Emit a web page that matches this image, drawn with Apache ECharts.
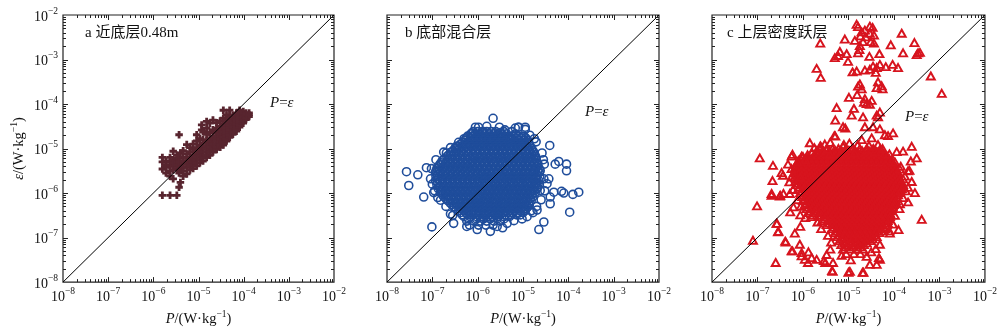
<!DOCTYPE html>
<html><head><meta charset="utf-8">
<script src="https://cdn.jsdelivr.net/npm/echarts@6/dist/echarts.min.js"></script>
<style>html,body{margin:0;padding:0;background:#fff}#c{width:1000px;height:332px}</style>
</head><body><div id="c"></div>
<script>
// tick label exponents (10^n)
const tickExponents = [-8,-7,-6,-5,-4,-3,-2];
const panelTitles = ['a 近底层0.48m', 'b 底部混合层', 'c 上层密度跃层'];

// Panel a: columns of log10(P) with their log10(eps) values
const aCols = [
 [-5.80,[-6.05,-5.46,-5.30,-5.20]],
 [-5.72,[-5.42,-5.55,-5.28,-5.36]],
 [-5.63,[-6.05,-5.20,-5.38,-5.50,-5.62,-5.30]],
 [-5.56,[-5.06,-5.25,-5.40,-5.68,-5.33,-5.48]],
 [-5.48,[-6.05,-5.45,-5.30,-5.15,-5.38,-5.22]],
 [-5.43,[-5.87,-4.69,-5.22,-5.38,-5.55,-5.30]],
 [-5.40,[-5.76,-5.10,-5.45]],
 [-5.34,[-5.50,-5.35,-5.20,-5.05,-5.62,-5.28,-5.42]],
 [-5.26,[-5.57,-5.42,-5.28,-5.12,-4.91,-5.35,-5.20]],
 [-5.19,[-4.98,-5.48,-5.33,-5.20,-5.08,-5.40,-5.26]],
 [-5.12,[-5.45,-5.30,-5.15,-5.02,-4.90,-5.37,-5.22]],
 [-5.04,[-4.69,-4.83,-5.39,-5.25,-5.12,-4.98,-5.32,-5.18,-5.05]],
 [-4.97,[-5.32,-5.18,-5.05,-4.92,-4.78,-5.25,-5.11]],
 [-4.93,[-4.47,-4.58,-4.98]],
 [-4.90,[-4.80,-5.28,-5.14,-5.00,-4.88,-4.62,-5.21,-5.07,-4.94]],
 [-4.82,[-4.39,-4.54,-5.20,-5.08,-4.95,-4.82,-4.68,-5.14,-5.01,-4.88]],
 [-4.75,[-4.43,-5.15,-5.02,-4.90,-4.78,-4.64,-5.08,-4.96,-4.84]],
 [-4.68,[-4.36,-5.08,-4.96,-4.84,-4.72,-4.58,-5.02,-4.90,-4.78]],
 [-4.60,[-5.02,-4.90,-4.78,-4.66,-4.54,-4.42,-4.96,-4.84,-4.72,-4.60]],
 [-4.52,[-4.97,-4.85,-4.73,-4.61,-4.50,-4.38,-4.91,-4.79,-4.67,-4.55]],
 [-4.45,[-4.14,-4.92,-4.80,-4.68,-4.56,-4.44,-4.32,-4.86,-4.74,-4.62,-4.50]],
 [-4.38,[-4.25,-4.83,-4.72,-4.60,-4.48,-4.36,-4.78,-4.66,-4.54,-4.42]],
 [-4.31,[-4.14,-4.25,-4.75,-4.64,-4.53,-4.42,-4.32,-4.70,-4.58,-4.47,-4.37]],
 [-4.24,[-4.68,-4.57,-4.46,-4.36,-4.26,-4.62,-4.51,-4.41,-4.31]],
 [-4.16,[-4.61,-4.50,-4.40,-4.30,-4.20,-4.55,-4.45,-4.35,-4.25]],
 [-4.09,[-4.52,-4.42,-4.33,-4.24,-4.14,-4.47,-4.37,-4.28,-4.19]],
 [-4.01,[-4.43,-4.34,-4.25,-4.17,-4.38,-4.29,-4.21]],
 [-3.95,[-4.35,-4.27,-4.20,-4.31,-4.23]],
 [-3.88,[-4.28,-4.20,-4.24]]
];

// Panel b: rows of log10(eps) with their log10(P) values (dense core)
const bRows = [
 [-4.52,[-5.98,-5.52,-5.10,-4.95]],
 [-4.62,[-6.10,-6.00,-5.90,-5.80,-5.70,-5.60,-5.42,-5.25]],
 [-4.67,[-6.15,-6.05,-5.95,-5.85,-5.75,-5.65,-5.55,-5.47,-5.36,-5.17]],
 [-4.72,[-6.22,-6.12,-6.02,-5.93,-5.83,-5.73,-5.63,-5.53,-5.43,-5.33,-5.22,-5.10,-4.98]],
 [-4.76,[-6.25,-6.15,-6.05,-5.95,-5.85,-5.75,-5.65,-5.55,-5.45,-5.35,-5.25,-5.15,-5.04,-4.94]],
 [-4.81,[-6.28,-6.18,-6.07,-5.97,-5.88,-5.78,-5.68,-5.58,-5.48,-5.38,-5.28,-5.18,-5.08,-4.98,-4.90]],
 [-4.86,[-6.33,-6.23,-6.12,-6.02,-5.92,-5.82,-5.72,-5.62,-5.52,-5.42,-5.32,-5.22,-5.12,-5.02,-4.92,-4.88]],
 [-4.90,[-6.38,-6.27,-6.16,-6.06,-5.95,-5.85,-5.75,-5.65,-5.55,-5.45,-5.35,-5.25,-5.15,-5.05,-4.95,-4.86]],
 [-4.95,[-6.44,-6.34,-6.24,-6.13,-6.02,-5.92,-5.82,-5.72,-5.62,-5.52,-5.42,-5.32,-5.22,-5.12,-5.02,-4.92,-4.84]],
 [-5.00,[-6.50,-6.40,-6.30,-6.20,-6.10,-6.00,-5.90,-5.80,-5.70,-5.60,-5.50,-5.40,-5.30,-5.20,-5.10,-5.00,-4.90,-4.81]],
 [-5.05,[-6.55,-6.45,-6.35,-6.25,-6.15,-6.05,-5.95,-5.85,-5.75,-5.65,-5.55,-5.45,-5.35,-5.25,-5.15,-5.05,-4.95,-4.85,-4.78]],
 [-5.09,[-6.60,-6.48,-6.37,-6.26,-6.15,-6.05,-5.95,-5.85,-5.75,-5.65,-5.55,-5.45,-5.35,-5.25,-5.15,-5.05,-4.95,-4.85,-4.76]],
 [-5.14,[-6.64,-6.53,-6.42,-6.31,-6.20,-6.10,-6.00,-5.90,-5.80,-5.70,-5.60,-5.50,-5.40,-5.30,-5.20,-5.10,-5.00,-4.90,-4.80,-4.74]],
 [-5.18,[-6.68,-6.57,-6.45,-6.34,-6.23,-6.12,-6.02,-5.92,-5.82,-5.72,-5.62,-5.52,-5.42,-5.32,-5.22,-5.12,-5.02,-4.92,-4.82,-4.72]],
 [-5.23,[-6.73,-6.62,-6.50,-6.39,-6.28,-6.17,-6.07,-5.97,-5.87,-5.77,-5.67,-5.57,-5.47,-5.37,-5.27,-5.17,-5.07,-4.97,-4.87,-4.77,-4.71]],
 [-5.27,[-6.78,-6.66,-6.55,-6.44,-6.33,-6.22,-6.11,-6.00,-5.90,-5.80,-5.70,-5.60,-5.50,-5.40,-5.30,-5.20,-5.10,-5.00,-4.90,-4.80,-4.70]],
 [-5.32,[-6.81,-6.70,-6.59,-6.48,-6.37,-6.26,-6.15,-6.05,-5.95,-5.85,-5.75,-5.65,-5.55,-5.45,-5.35,-5.25,-5.15,-5.05,-4.95,-4.85,-4.75,-4.68]],
 [-5.36,[-6.84,-6.72,-6.61,-6.50,-6.39,-6.28,-6.17,-6.06,-5.95,-5.85,-5.75,-5.65,-5.55,-5.45,-5.35,-5.25,-5.15,-5.05,-4.95,-4.85,-4.75,-4.67]],
 [-5.41,[-6.87,-6.76,-6.65,-6.54,-6.43,-6.32,-6.21,-6.10,-6.00,-5.90,-5.80,-5.70,-5.60,-5.50,-5.40,-5.30,-5.20,-5.10,-5.00,-4.90,-4.80,-4.70]],
 [-5.45,[-6.90,-6.78,-6.67,-6.56,-6.45,-6.34,-6.23,-6.12,-6.01,-5.90,-5.80,-5.70,-5.60,-5.50,-5.40,-5.30,-5.20,-5.10,-5.00,-4.90,-4.80,-4.71,-4.64]],
 [-5.50,[-6.92,-6.85,-6.73,-6.62,-6.51,-6.40,-6.29,-6.18,-6.07,-5.96,-5.85,-5.75,-5.65,-5.55,-5.45,-5.35,-5.25,-5.15,-5.05,-4.95,-4.85,-4.75,-4.67]],
 [-5.54,[-6.93,-6.82,-6.71,-6.60,-6.49,-6.38,-6.27,-6.16,-6.05,-5.94,-5.84,-5.74,-5.64,-5.54,-5.44,-5.34,-5.24,-5.14,-5.04,-4.94,-4.84,-4.74,-4.64]],
 [-5.59,[-6.88,-6.76,-6.65,-6.54,-6.43,-6.32,-6.21,-6.10,-5.99,-5.89,-5.79,-5.69,-5.59,-5.49,-5.39,-5.29,-5.19,-5.09,-4.99,-4.89,-4.79,-4.69]],
 [-5.63,[-6.92,-6.80,-6.69,-6.58,-6.47,-6.36,-6.25,-6.14,-6.03,-5.92,-5.82,-5.72,-5.62,-5.52,-5.42,-5.32,-5.22,-5.12,-5.02,-4.92,-4.82,-4.72,-4.63]],
 [-5.68,[-6.88,-6.77,-6.66,-6.55,-6.44,-6.33,-6.22,-6.11,-6.00,-5.90,-5.80,-5.70,-5.60,-5.50,-5.40,-5.30,-5.20,-5.10,-5.00,-4.90,-4.80,-4.70]],
 [-5.72,[-6.93,-6.83,-6.72,-6.61,-6.50,-6.39,-6.28,-6.17,-6.06,-5.95,-5.85,-5.75,-5.65,-5.55,-5.45,-5.35,-5.25,-5.15,-5.05,-4.95,-4.85,-4.75,-4.65]],
 [-5.77,[-6.88,-6.77,-6.66,-6.55,-6.44,-6.33,-6.22,-6.11,-6.00,-5.90,-5.80,-5.70,-5.60,-5.50,-5.40,-5.30,-5.20,-5.10,-5.00,-4.90,-4.80,-4.70]],
 [-5.81,[-6.90,-6.79,-6.68,-6.57,-6.46,-6.35,-6.24,-6.13,-6.02,-5.91,-5.81,-5.71,-5.61,-5.51,-5.41,-5.31,-5.21,-5.11,-5.01,-4.91,-4.81,-4.71,-4.64]],
 [-5.86,[-6.85,-6.74,-6.63,-6.52,-6.41,-6.30,-6.19,-6.08,-5.97,-5.86,-5.76,-5.66,-5.56,-5.46,-5.36,-5.26,-5.16,-5.06,-4.96,-4.86,-4.76,-4.68]],
 [-5.90,[-6.87,-6.76,-6.65,-6.54,-6.43,-6.32,-6.21,-6.10,-5.99,-5.88,-5.78,-5.68,-5.58,-5.48,-5.38,-5.28,-5.18,-5.08,-4.98,-4.88,-4.78,-4.69]],
 [-5.95,[-6.80,-6.70,-6.60,-6.49,-6.38,-6.27,-6.16,-6.05,-5.94,-5.83,-5.73,-5.63,-5.53,-5.43,-5.33,-5.23,-5.13,-5.03,-4.93,-4.83,-4.75]],
 [-5.99,[-6.82,-6.71,-6.60,-6.49,-6.38,-6.27,-6.16,-6.05,-5.94,-5.84,-5.74,-5.64,-5.54,-5.44,-5.34,-5.24,-5.14,-5.04,-4.94,-4.84,-4.73]],
 [-6.04,[-6.77,-6.66,-6.55,-6.44,-6.33,-6.22,-6.11,-6.00,-5.89,-5.79,-5.69,-5.59,-5.49,-5.39,-5.29,-5.19,-5.09,-4.99,-4.89,-4.80]],
 [-6.08,[-6.75,-6.64,-6.53,-6.42,-6.31,-6.20,-6.09,-5.98,-5.88,-5.78,-5.68,-5.58,-5.48,-5.38,-5.28,-5.18,-5.08,-4.98,-4.88,-4.78]],
 [-6.13,[-6.70,-6.59,-6.48,-6.37,-6.26,-6.15,-6.04,-5.93,-5.83,-5.73,-5.63,-5.53,-5.43,-5.33,-5.23,-5.13,-5.03,-4.93,-4.84]],
 [-6.17,[-6.66,-6.55,-6.44,-6.33,-6.22,-6.11,-6.00,-5.90,-5.80,-5.70,-5.60,-5.50,-5.40,-5.30,-5.20,-5.10,-5.00,-4.91,-4.82]],
 [-6.22,[-6.61,-6.50,-6.39,-6.28,-6.17,-6.06,-5.96,-5.86,-5.76,-5.66,-5.56,-5.46,-5.36,-5.26,-5.16,-5.06,-4.96,-4.87]],
 [-6.26,[-6.57,-6.46,-6.35,-6.24,-6.13,-6.02,-5.92,-5.82,-5.72,-5.62,-5.52,-5.42,-5.32,-5.22,-5.12,-5.02,-4.93,-4.86]],
 [-6.31,[-6.52,-6.41,-6.30,-6.19,-6.08,-5.98,-5.88,-5.78,-5.68,-5.58,-5.48,-5.38,-5.28,-5.18,-5.08,-4.98,-4.90]],
 [-6.35,[-6.47,-6.36,-6.25,-6.14,-6.03,-5.93,-5.83,-5.73,-5.63,-5.53,-5.43,-5.33,-5.23,-5.13,-5.03,-4.93]],
 [-6.40,[-6.42,-6.31,-6.20,-6.09,-5.99,-5.89,-5.79,-5.69,-5.59,-5.49,-5.39,-5.29,-5.18,-5.06,-4.96]],
 [-6.44,[-6.38,-6.26,-6.15,-6.04,-5.94,-5.84,-5.74,-5.64,-5.54,-5.44,-5.34,-5.24,-5.12,-5.00]],
 [-6.49,[-6.34,-6.22,-6.10,-5.98,-5.86,-5.74,-5.62,-5.50,-5.38,-5.26,-5.14]],
 [-6.53,[-6.30,-6.16,-6.02,-5.90,-5.78,-5.66,-5.54,-5.42,-5.30]],
 [-6.58,[-6.20,-6.02,-5.87,-5.72,-5.57,-5.42]],
 [-6.63,[-6.24,-6.08,-5.94,-5.80,-5.64,-5.50]],
 [-6.72,[-6.18,-5.98,-5.82,-5.66]]
];
// Panel b: scattered points [log10(P), log10(eps)]
const bOut = [
 [-7.57,-5.52],[-7.52,-5.83],[-7.32,-5.59],[-7.13,-5.43],[-7.19,-6.09],[-7.01,-6.76],[-6.69,-5.10],[-6.47,-4.95],
 [-5.66,-4.32],[-5.49,-4.64],[-5.10,-4.52],[-4.95,-4.57],[-4.71,-4.85],[-4.41,-4.93],[-4.21,-5.29],[-4.04,-5.35],
 [-4.04,-5.50],[-4.15,-5.96],[-4.10,-6.00],[-3.90,-6.03],[-3.77,-5.98],[-3.97,-6.43],[-4.54,-6.65],[-4.65,-6.82],
 [-4.78,-6.44],[-5.06,-6.49],[-5.72,-6.86],[-6.01,-6.82],[-6.24,-6.75],[-6.53,-6.68],[-6.60,-6.47],[-4.40,-6.09],
 [-4.40,-6.24],[-4.43,-5.68],[-6.97,-5.99],[-6.82,-6.16],[-7.04,-5.68],[-6.49,-4.98],[-6.12,-4.65],[-5.87,-4.62],
 [-5.28,-4.75],[-5.17,-4.54],[-4.62,-5.50],[-4.54,-5.68],[-4.47,-5.79],[-4.62,-5.94],[-4.32,-5.98],[-4.29,-5.35],
 [-4.53,-5.35],[-4.69,-6.38],[-4.91,-6.53],[-5.35,-6.68],[-5.57,-6.75],
 [-6.30,-4.78],[-6.42,-4.86],[-6.60,-4.98],[-6.75,-5.08],[-6.92,-5.25],[-7.02,-5.45],[-7.00,-5.80],[-6.95,-5.95],
 [-6.88,-6.10],[-6.70,-6.30],[-6.55,-6.50],[-5.40,-4.58],[-5.80,-4.50],[-6.05,-4.52],[-4.85,-4.70],[-4.75,-4.78],
 [-4.58,-5.10],[-4.55,-5.25],[-4.52,-5.95],[-4.60,-6.15],[-4.70,-6.30],[-4.82,-6.40],[-5.02,-6.58],[-5.20,-6.62],
 [-5.45,-6.78]
];

// Panel c: rows of log10(eps) with their log10(P) values (dense core)
const cRows = [
 [-5.00,[-5.62,-5.48,-5.35,-5.22,-5.05,-4.90,-4.75,-4.60,-4.45,-4.30]],
 [-5.05,[-5.70,-5.57,-5.42,-5.29,-5.15,-5.00,-4.85,-4.70,-4.55,-4.40,-4.28]],
 [-5.09,[-5.80,-5.68,-5.56,-5.45,-5.34,-5.23,-5.12,-5.01,-4.90,-4.79,-4.68,-4.57,-4.46,-4.35,-4.25]],
 [-5.14,[-5.90,-5.74,-5.62,-5.50,-5.39,-5.28,-5.17,-5.06,-4.95,-4.84,-4.73,-4.62,-4.51,-4.40,-4.30,-4.20]],
 [-5.18,[-6.00,-5.88,-5.77,-5.66,-5.55,-5.44,-5.33,-5.22,-5.11,-5.00,-4.89,-4.78,-4.67,-4.56,-4.45,-4.34,-4.24,-4.15]],
 [-5.23,[-6.05,-5.93,-5.82,-5.71,-5.60,-5.49,-5.38,-5.27,-5.16,-5.05,-4.94,-4.83,-4.72,-4.61,-4.50,-4.39,-4.28,-4.18,-4.10]],
 [-5.27,[-6.10,-5.98,-5.87,-5.76,-5.65,-5.54,-5.43,-5.32,-5.21,-5.10,-4.99,-4.88,-4.77,-4.66,-4.55,-4.44,-4.33,-4.22,-4.12,-4.05]],
 [-5.32,[-6.12,-6.02,-5.92,-5.81,-5.70,-5.59,-5.48,-5.37,-5.26,-5.15,-5.04,-4.93,-4.82,-4.71,-4.60,-4.49,-4.38,-4.27,-4.17,-4.08,-4.02]],
 [-5.36,[-6.15,-6.04,-5.93,-5.82,-5.71,-5.60,-5.49,-5.38,-5.27,-5.16,-5.05,-4.94,-4.83,-4.72,-4.61,-4.50,-4.39,-4.28,-4.17,-4.07,-4.00]],
 [-5.41,[-6.16,-6.10,-5.99,-5.88,-5.77,-5.66,-5.55,-5.44,-5.33,-5.22,-5.11,-5.00,-4.89,-4.78,-4.67,-4.56,-4.45,-4.34,-4.23,-4.13,-4.04,-3.98]],
 [-5.45,[-6.18,-6.07,-5.96,-5.85,-5.74,-5.63,-5.52,-5.41,-5.30,-5.19,-5.08,-4.97,-4.86,-4.75,-4.64,-4.53,-4.42,-4.31,-4.20,-4.10,-4.02,-3.95]],
 [-5.50,[-6.14,-6.03,-5.92,-5.81,-5.70,-5.59,-5.48,-5.37,-5.26,-5.15,-5.04,-4.93,-4.82,-4.71,-4.60,-4.49,-4.38,-4.27,-4.16,-4.06,-3.98,-3.93]],
 [-5.54,[-6.20,-6.09,-5.98,-5.87,-5.76,-5.65,-5.54,-5.43,-5.32,-5.21,-5.10,-4.99,-4.88,-4.77,-4.66,-4.55,-4.44,-4.33,-4.22,-4.12,-4.02,-3.93]],
 [-5.59,[-6.14,-6.03,-5.92,-5.81,-5.70,-5.59,-5.48,-5.37,-5.26,-5.15,-5.04,-4.93,-4.82,-4.71,-4.60,-4.49,-4.38,-4.27,-4.16,-4.06,-3.96,-3.91]],
 [-5.63,[-6.18,-6.07,-5.96,-5.85,-5.74,-5.63,-5.52,-5.41,-5.30,-5.19,-5.08,-4.97,-4.86,-4.75,-4.64,-4.53,-4.42,-4.31,-4.20,-4.10,-4.00,-3.90]],
 [-5.68,[-6.12,-6.01,-5.90,-5.79,-5.68,-5.57,-5.46,-5.35,-5.24,-5.13,-5.02,-4.91,-4.80,-4.69,-4.58,-4.47,-4.36,-4.25,-4.14,-4.04,-3.94,-3.87]],
 [-5.72,[-6.16,-6.05,-5.94,-5.83,-5.72,-5.61,-5.50,-5.39,-5.28,-5.17,-5.06,-4.95,-4.84,-4.73,-4.62,-4.51,-4.40,-4.29,-4.18,-4.08,-3.98,-3.88]],
 [-5.77,[-6.10,-5.99,-5.88,-5.77,-5.66,-5.55,-5.44,-5.33,-5.22,-5.11,-5.00,-4.89,-4.78,-4.67,-4.56,-4.45,-4.34,-4.23,-4.12,-4.02,-3.92,-3.83]],
 [-5.81,[-6.15,-6.04,-5.93,-5.82,-5.71,-5.60,-5.49,-5.38,-5.27,-5.16,-5.05,-4.94,-4.83,-4.72,-4.61,-4.50,-4.39,-4.28,-4.17,-4.06,-3.96,-3.86,-3.80]],
 [-5.86,[-6.08,-5.97,-5.86,-5.75,-5.64,-5.53,-5.42,-5.31,-5.20,-5.09,-4.98,-4.87,-4.76,-4.65,-4.54,-4.43,-4.32,-4.21,-4.10,-4.00,-3.90,-3.82]],
 [-5.90,[-6.10,-5.99,-5.88,-5.77,-5.66,-5.55,-5.44,-5.33,-5.22,-5.11,-5.00,-4.89,-4.78,-4.67,-4.56,-4.45,-4.34,-4.23,-4.12,-4.02,-3.92,-3.83]],
 [-5.95,[-6.02,-5.91,-5.80,-5.69,-5.58,-5.47,-5.36,-5.25,-5.14,-5.03,-4.92,-4.81,-4.70,-4.59,-4.48,-4.37,-4.26,-4.15,-4.04,-3.94,-3.85]],
 [-5.99,[-6.06,-5.95,-5.84,-5.73,-5.62,-5.51,-5.40,-5.29,-5.18,-5.07,-4.96,-4.85,-4.74,-4.63,-4.52,-4.41,-4.30,-4.19,-4.08,-3.98,-3.88]],
 [-6.04,[-5.98,-5.87,-5.76,-5.65,-5.54,-5.43,-5.32,-5.21,-5.10,-4.99,-4.88,-4.77,-4.66,-4.55,-4.44,-4.33,-4.22,-4.11,-4.01,-3.91]],
 [-6.08,[-6.02,-5.91,-5.80,-5.69,-5.58,-5.47,-5.36,-5.25,-5.14,-5.03,-4.92,-4.81,-4.70,-4.59,-4.48,-4.37,-4.26,-4.15,-4.04,-3.94]],
 [-6.13,[-5.96,-5.85,-5.74,-5.63,-5.52,-5.41,-5.30,-5.19,-5.08,-4.97,-4.86,-4.75,-4.64,-4.53,-4.42,-4.31,-4.20,-4.09,-3.99]],
 [-6.17,[-6.00,-5.89,-5.78,-5.67,-5.56,-5.45,-5.34,-5.23,-5.12,-5.01,-4.90,-4.79,-4.68,-4.57,-4.46,-4.35,-4.24,-4.13,-4.03,-3.96]],
 [-6.22,[-5.92,-5.81,-5.70,-5.59,-5.48,-5.37,-5.26,-5.15,-5.04,-4.93,-4.82,-4.71,-4.60,-4.49,-4.38,-4.27,-4.16,-4.06,-3.98]],
 [-6.26,[-5.96,-5.85,-5.74,-5.63,-5.52,-5.41,-5.30,-5.19,-5.08,-4.97,-4.86,-4.75,-4.64,-4.53,-4.42,-4.31,-4.20,-4.10,-4.01]],
 [-6.31,[-5.88,-5.77,-5.66,-5.55,-5.44,-5.33,-5.22,-5.11,-5.00,-4.89,-4.78,-4.67,-4.56,-4.45,-4.34,-4.23,-4.12,-4.03]],
 [-6.35,[-5.92,-5.81,-5.70,-5.59,-5.48,-5.37,-5.26,-5.15,-5.04,-4.93,-4.82,-4.71,-4.60,-4.49,-4.38,-4.27,-4.16,-4.06]],
 [-6.40,[-5.84,-5.72,-5.60,-5.48,-5.37,-5.26,-5.15,-5.04,-4.93,-4.82,-4.71,-4.60,-4.49,-4.38,-4.27,-4.16,-4.07]],
 [-6.44,[-5.88,-5.76,-5.64,-5.52,-5.41,-5.30,-5.19,-5.08,-4.97,-4.86,-4.75,-4.64,-4.53,-4.42,-4.31,-4.20,-4.10]],
 [-6.49,[-5.78,-5.60,-5.46,-5.34,-5.23,-5.12,-5.01,-4.90,-4.79,-4.68,-4.57,-4.46,-4.35,-4.24,-4.14,-4.07]],
 [-6.53,[-5.82,-5.66,-5.50,-5.38,-5.27,-5.16,-5.05,-4.94,-4.83,-4.72,-4.61,-4.50,-4.39,-4.28,-4.18,-4.09]],
 [-6.58,[-5.52,-5.40,-5.29,-5.18,-5.07,-4.96,-4.85,-4.74,-4.63,-4.52,-4.41,-4.30,-4.20,-4.12]],
 [-6.62,[-5.58,-5.45,-5.34,-5.23,-5.12,-5.01,-4.90,-4.79,-4.68,-4.57,-4.46,-4.35,-4.24,-4.14]],
 [-6.67,[-5.42,-5.31,-5.20,-5.09,-4.98,-4.87,-4.76,-4.65,-4.54,-4.43,-4.32,-4.21,-4.14]],
 [-6.71,[-5.48,-5.36,-5.25,-5.14,-5.03,-4.92,-4.81,-4.70,-4.59,-4.48,-4.37,-4.26,-4.16]],
 [-6.76,[-5.32,-5.21,-5.10,-4.99,-4.88,-4.77,-4.66,-4.55,-4.44,-4.33,-4.24]],
 [-6.80,[-5.36,-5.26,-5.15,-5.04,-4.93,-4.82,-4.71,-4.60,-4.49,-4.38,-4.28,-4.20]],
 [-6.85,[-5.25,-5.14,-5.03,-4.92,-4.81,-4.70,-4.59,-4.48,-4.37,-4.27]],
 [-6.89,[-5.30,-5.19,-5.08,-4.97,-4.86,-4.75,-4.64,-4.53,-4.42,-4.32]],
 [-6.94,[-5.20,-5.08,-4.97,-4.86,-4.75,-4.64,-4.53,-4.43]],
 [-6.98,[-5.25,-5.13,-5.02,-4.91,-4.80,-4.69,-4.58,-4.47,-4.38]],
 [-7.03,[-5.14,-5.01,-4.90,-4.79,-4.68,-4.57,-4.47]],
 [-7.07,[-5.20,-5.07,-4.95,-4.84,-4.73,-4.62,-4.51]],
 [-7.12,[-5.09,-4.96,-4.84,-4.72,-4.60]],
 [-7.16,[-5.16,-5.02,-4.90,-4.78,-4.66]],
 [-7.21,[-5.06,-4.88,-4.74]],
 [-7.26,[-5.12,-4.96,-4.80,-4.68]],
 [-7.36,[-5.05,-4.88,-4.74]]
];
// Panel c: scattered points [log10(P), log10(eps)]
const cOut = [
 [-4.82,-2.21],[-4.79,-2.26],[-4.71,-2.38],[-4.64,-2.34],[-4.53,-2.25],[-4.47,-2.28],[-4.53,-2.41],[-4.44,-2.45],
 [-4.62,-2.49],[-4.74,-2.47],[-4.86,-2.57],[-4.68,-2.60],[-4.51,-2.60],[-4.44,-2.63],[-4.75,-2.69],[-5.62,-2.63],
 [-5.08,-2.54],[-5.19,-2.82],[-5.30,-2.96],[-5.23,-2.91],[-5.04,-2.87],[-5.01,-3.04],[-4.76,-2.78],[-4.79,-2.85],
 [-4.54,-2.93],[-4.32,-2.87],[-4.07,-2.67],[-3.80,-2.85],[-3.83,-2.41],[-3.55,-2.62],[-3.50,-2.89],[-3.47,-2.85],
 [-3.43,-2.84],[-5.70,-3.20],[-5.61,-3.40],[-4.91,-3.28],[-4.82,-3.26],[-4.64,-3.24],[-4.53,-3.22],[-4.46,-3.15],
 [-4.38,-3.18],[-4.31,-3.11],[-4.18,-3.16],[-4.03,-3.11],[-3.91,-3.18],[-4.40,-3.29],[-4.35,-3.50],[-4.27,-3.59],
 [-4.38,-3.63],[-4.25,-3.66],[-4.75,-3.55],[-4.79,-3.60],[-4.71,-3.66],[-3.19,-3.37],[-2.95,-3.76],[-4.99,-3.85],
 [-4.81,-3.79],[-4.66,-3.96],[-4.60,-3.99],[-4.53,-4.01],[-4.49,-3.92],[-4.64,-3.88],[-5.26,-4.08],[-4.88,-4.10],
 [-4.93,-4.25],[-4.68,-4.29],[-4.38,-4.25],[-4.31,-4.18],[-4.35,-4.29],[-5.29,-4.36],[-5.12,-4.51],[-4.64,-4.51],
 [-4.46,-4.51],[-4.31,-4.56],[-4.20,-4.69],[-4.13,-4.71],[-4.02,-4.65],[-4.49,-4.76],[-4.35,-4.91],[-4.71,-4.80],
 [-5.31,-4.71],[-5.12,-4.95],[-4.90,-4.99],[-4.87,-5.10],[-5.85,-4.87],[-5.61,-4.95],[-5.19,-5.13],[-5.41,-5.13],
 [-4.60,-5.04],[-4.48,-5.02],[-4.42,-5.07],[-3.94,-5.07],[-3.80,-5.06],[-3.61,-4.95],[-3.50,-5.21],[-3.63,-5.28],
 [-3.87,-5.46],[-3.69,-5.50],
 [-6.95,-5.21],[-6.66,-5.38],[-6.47,-5.54],[-6.44,-5.60],[-6.33,-5.35],[-6.23,-5.13],[-6.03,-5.17],[-6.67,-5.72],
 [-6.69,-6.01],[-6.51,-6.07],[-6.29,-6.01],[-7.01,-6.29],[-7.10,-7.06],[-6.57,-6.68],[-6.55,-6.87],[-6.38,-7.10],
 [-6.23,-7.30],[-6.60,-7.56],[-6.18,-6.90],[-6.07,-7.15],[-6.03,-7.41],[-5.96,-7.49],[-5.89,-7.56],[-5.70,-7.49],
 [-5.54,-7.52],[-5.34,-7.56],[-5.35,-7.76],[-4.97,-7.76],[-4.69,-7.78],[-4.38,-7.60],[-4.31,-7.49],[-5.48,-7.38],
 [-3.39,-6.59],[-3.54,-5.99],[-3.69,-5.87],[-3.61,-5.74],[-3.80,-5.68],[-3.66,-5.49],[-3.87,-6.24],[-3.69,-6.20],
 [-3.90,-6.82],[-4.09,-6.90],[-4.31,-7.15],[-4.53,-7.60],
 [-5.62,-4.94],[-5.47,-5.02],[-5.29,-4.72],[-5.10,-4.91],[-5.07,-4.54],[-6.25,-5.64],[-6.06,-5.64],[-6.58,-6.68],
 [-6.54,-6.86],[-6.39,-7.08],[-6.06,-6.75],[-6.25,-7.30],[-6.03,-7.34],[-5.88,-7.32],[-5.81,-7.45],[-5.40,-7.26],
 [-5.51,-7.56],[-5.36,-7.74],[-5.00,-7.78],[-4.67,-7.78],[-4.33,-7.45],[-6.43,-6.01],[-6.50,-6.05],[-6.69,-6.05],
 [-6.25,-5.17],[-5.95,-5.25],[-6.12,-5.30],[-6.21,-6.31],[-6.28,-6.42],[-6.06,-6.49],
 [-5.75,-4.98],[-5.52,-4.90],[-5.40,-4.86],[-4.98,-4.88],[-4.80,-4.92],[-4.55,-4.93],[-4.25,-5.00],[-4.10,-5.12],
 [-3.98,-5.30],[-3.85,-5.40],[-3.76,-5.62],[-3.74,-5.95],[-3.80,-6.10],[-3.88,-6.35],[-3.98,-6.50],[-4.02,-6.70],
 [-4.10,-6.85],[-6.25,-5.45],[-6.30,-5.75],[-6.22,-5.92],[-6.12,-6.15],[-6.05,-6.30],[-5.95,-6.55],[-5.68,-6.65],
 [-5.60,-6.80],[-5.45,-6.95],[-5.38,-7.10],[-4.40,-7.25],[-4.50,-7.32],[-4.60,-7.42],[-4.95,-7.50],[-5.15,-7.40]
];

const pow10 = v => Math.pow(10, v);
function fromCols(cols){ const out=[]; cols.forEach(([p,es])=>es.forEach(e=>out.push([pow10(p),pow10(e)]))); return out; }
function fromRows(rows){ const out=[]; rows.forEach(([e,ps])=>ps.forEach(p=>out.push([pow10(p),pow10(e)]))); return out; }
function fromPairs(list){ return list.map(([p,e])=>[pow10(p),pow10(e)]); }

const aData = fromCols(aCols);
const bData = fromRows(bRows).concat(fromPairs(bOut));
const cData = fromRows(cRows).concat(fromPairs(cOut));

const AX_MIN = pow10(tickExponents[0]);
const AX_MAX = pow10(tickExponents[tickExponents.length-1]);

// tick marks (major at decades, minor at 2..9 x decade)
const tickData = [];
for (let d = tickExponents[0]; d < tickExponents[tickExponents.length-1]; d++) {
  for (let m = 1; m <= 9; m++) {
    const v = m * pow10(d);
    if (m === 1 && d === tickExponents[0]) continue;
    tickData.push([v, v, m === 1 ? 5 : 3]);
  }
}

const SERIF = '"Liberation Serif","Times New Roman",serif';
const MIXED = '"Liberation Serif","Noto Sans CJK SC",serif';
const INK = '#111';

const tickRich = {
  b:{fontFamily:SERIF, fontSize:14, color:INK, verticalAlign:'bottom', lineHeight:18},
  s:{fontFamily:SERIF, fontSize:9.5, color:INK, verticalAlign:'top', lineHeight:18}
};
const nameRich = {
  i:{fontFamily:SERIF, fontSize:14.5, fontStyle:'italic', color:INK, verticalAlign:'bottom', lineHeight:18},
  n:{fontFamily:SERIF, fontSize:14.5, color:INK, verticalAlign:'bottom', lineHeight:18},
  s:{fontFamily:SERIF, fontSize:9.5, color:INK, verticalAlign:'top', lineHeight:18}
};
function fmt(v){
  const e = Math.round(Math.log10(v));
  return '{b|10}{s|' + (e < 0 ? '\u2212' + (-e) : e) + '}';
}

const grids = [
  {left:63, top:15, width:271, height:272},
  {left:387, top:15, width:272, height:272},
  {left:712, top:15, width:273, height:272}
];

function xAxis(i){
  return {type:'log', logBase:10, gridIndex:i, min:AX_MIN, max:AX_MAX, splitNumber:6,
    axisLine:{show:false}, axisTick:{show:false}, splitLine:{show:false}, minorTick:{show:false},
    axisLabel:{show:true, margin:4, formatter:fmt, rich:tickRich, showMinLabel:true, showMaxLabel:true},
    name:'{i|P}{n|/(W\u00b7kg}{s|\u22121}{n|)}', nameLocation:'middle', nameGap:25,
    nameTextStyle:{rich:nameRich}};
}
function yAxis(i){
  return {type:'log', logBase:10, gridIndex:i, min:AX_MIN, max:AX_MAX, splitNumber:6,
    axisLine:{show:false}, axisTick:{show:false}, splitLine:{show:false}, minorTick:{show:false},
    axisLabel:{show:i===0, margin:5, formatter:fmt, rich:tickRich, showMinLabel:true, showMaxLabel:true},
    name: i===0 ? '{i|\u03b5}{n|/(W\u00b7kg}{s|\u22121}{n|)}' : '', nameLocation:'middle', nameGap:36, nameRotate:90,
    nameTextStyle:{rich:nameRich}};
}
function tickSeries(i){
  return {type:'custom', xAxisIndex:i, yAxisIndex:i, silent:true, z:6, data:tickData,
    renderItem:function(params, api){
      const v = api.value(0), len = api.value(2);
      const b = api.coord([v, AX_MIN]), t = api.coord([v, AX_MAX]);
      const l = api.coord([AX_MIN, v]), r = api.coord([AX_MAX, v]);
      const style = {stroke:'#222', lineWidth:1};
      const bx = Math.round(b[0])+0.5, ly = Math.round(l[1])+0.5;
      return {type:'group', children:[
        {type:'line', shape:{x1:bx,y1:b[1],x2:bx,y2:b[1]-len}, style:style},
        {type:'line', shape:{x1:bx,y1:t[1],x2:bx,y2:t[1]+len}, style:style},
        {type:'line', shape:{x1:l[0],y1:ly,x2:l[0]+len,y2:ly}, style:style},
        {type:'line', shape:{x1:r[0],y1:ly,x2:r[0]-len,y2:ly}, style:style}
      ]};
    }};
}
function diagSeries(i){
  return {type:'line', xAxisIndex:i, yAxisIndex:i, data:[[AX_MIN,AX_MIN],[AX_MAX,AX_MAX]],
    symbol:'none', lineStyle:{color:'#000', width:1}, z:5, silent:true};
}

const plusPath = 'path://M2.5,0h3v2.5h2.5v3h-2.5v2.5h-3v-2.5h-2.5v-3h2.5z';

const series = [
  {type:'scatter', xAxisIndex:0, yAxisIndex:0, data:aData, symbol:plusPath, symbolSize:7.5,
    itemStyle:{color:'#58252f', opacity:1}, z:2},
  {type:'scatter', xAxisIndex:1, yAxisIndex:1, data:bData, symbol:'circle', symbolSize:8,
    itemStyle:{color:'rgba(0,0,0,0)', borderColor:'#1f4d9b', borderWidth:1.6, opacity:1}, z:2},
  {type:'scatter', xAxisIndex:2, yAxisIndex:2, data:cData, symbol:'triangle', symbolSize:[8,7],
    itemStyle:{color:'rgba(0,0,0,0)', borderColor:'#d7141e', borderWidth:1.9, opacity:1}, z:2},
  diagSeries(0), diagSeries(1), diagSeries(2),
  tickSeries(0), tickSeries(1), tickSeries(2)
];

const peRich = {
  i:{fontFamily:SERIF, fontSize:15, fontStyle:'italic', fill:INK},
  n:{fontFamily:SERIF, fontSize:15, fill:INK}
};
const graphic = [
  {type:'text', left:85, top:26, style:{text:panelTitles[0], font:'15px ' + MIXED, fill:INK}},
  {type:'text', left:405, top:26, style:{text:panelTitles[1], font:'15px ' + MIXED, fill:INK}},
  {type:'text', left:727, top:26, style:{text:panelTitles[2], font:'15px ' + MIXED, fill:INK}},
  {type:'text', left:270, top:96, style:{text:'{i|P}{n|=}{i|\u03b5}', rich:peRich}},
  {type:'text', left:585, top:105, style:{text:'{i|P}{n|=}{i|\u03b5}', rich:peRich}},
  {type:'text', left:905, top:110, style:{text:'{i|P}{n|=}{i|\u03b5}', rich:peRich}}
];

const chart = echarts.init(document.getElementById('c'), null, {renderer:'canvas'});
chart.setOption({
  animation:false,
  backgroundColor:'#fff',
  grid: grids.map(g => Object.assign({show:true, borderColor:'#222', borderWidth:1.2, backgroundColor:'transparent', containLabel:false}, g)),
  xAxis: [0,1,2].map(xAxis),
  yAxis: [0,1,2].map(yAxis),
  series: series,
  graphic: graphic
});
</script></body></html>
